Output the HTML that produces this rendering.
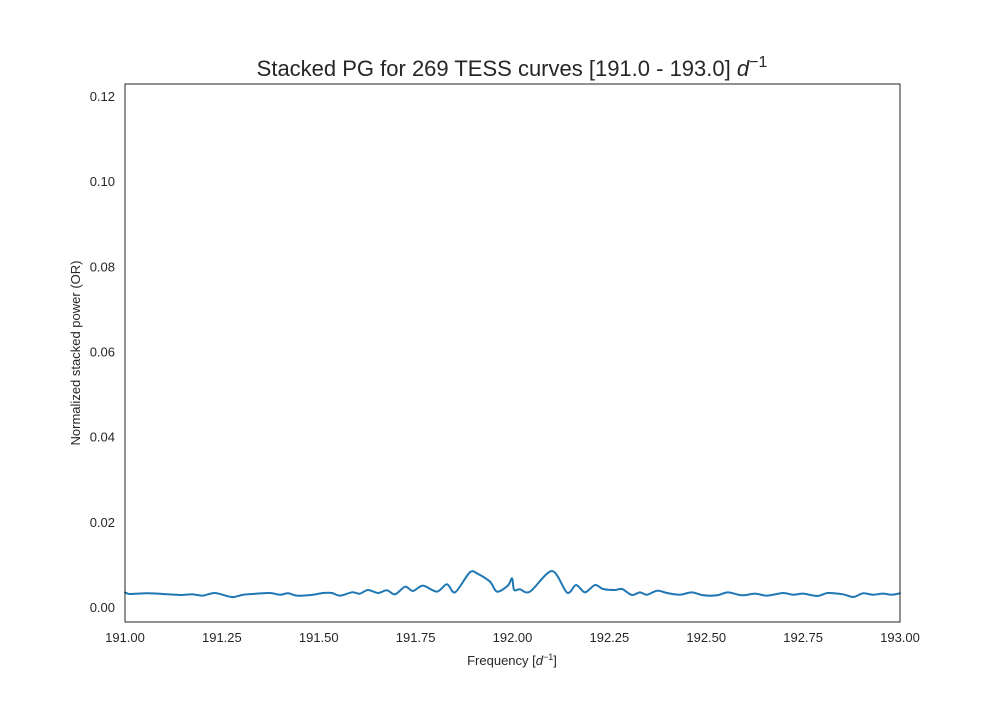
<!DOCTYPE html>
<html><head><meta charset="utf-8"><style>
body{margin:0;background:#fff;}
svg text{font-family:"Liberation Sans",sans-serif;fill:#262626;}
</style></head><body>
<svg id="chart" width="1000" height="700" xmlns="http://www.w3.org/2000/svg">
<rect width="1000" height="700" fill="#fff"/>
<text x="512" y="76" font-size="22" text-anchor="middle">Stacked PG for 269 TESS curves [191.0 - 193.0] <tspan font-style="italic">d</tspan><tspan dy="-9" font-size="16">−1</tspan></text>
<g id="yticks"></g>
<g id="xticks"></g>
<path id="line" fill="none" stroke="#1f77b4" stroke-width="2" stroke-linejoin="round" stroke-linecap="round"/>
<rect x="125" y="84" width="775" height="538" fill="none" stroke="#262626" stroke-width="1"/>
<text x="80" y="353" font-size="13" text-anchor="middle" transform="rotate(-90 80 353)">Normalized stacked power (OR)</text>
<text x="512" y="665" font-size="13" text-anchor="middle">Frequency [<tspan font-style="italic">d</tspan><tspan dy="-5" font-size="9">−1</tspan><tspan dy="5">]</tspan></text>
</svg>
<script>
const freqs=[191.0,191.013,191.056,191.098,191.142,191.175,191.201,191.232,191.276,191.305,191.341,191.374,191.4,191.421,191.444,191.485,191.511,191.534,191.555,191.586,191.606,191.627,191.653,191.676,191.697,191.723,191.743,191.769,191.805,191.831,191.852,191.89,191.911,191.942,191.96,191.988,191.999,192.004,192.019,192.045,192.102,192.141,192.164,192.187,192.213,192.234,192.265,192.283,192.308,192.329,192.347,192.373,192.399,192.432,192.463,192.492,192.528,192.556,192.592,192.626,192.657,192.698,192.724,192.75,192.786,192.814,192.853,192.879,192.905,192.93,192.956,192.979,193.0];
const powers=[0.00341,0.00306,0.00322,0.00306,0.00282,0.00298,0.00266,0.00329,0.00235,0.00289,0.00313,0.00329,0.00289,0.00322,0.00266,0.00289,0.00329,0.00329,0.00266,0.00345,0.00313,0.0040,0.00329,0.00392,0.00298,0.00477,0.00376,0.00501,0.0036,0.00533,0.00345,0.00815,0.00776,0.00595,0.0036,0.00501,0.00674,0.0040,0.00416,0.0036,0.00846,0.00336,0.00517,0.00345,0.00517,0.00423,0.0040,0.00423,0.00282,0.00345,0.00289,0.00383,0.00329,0.00289,0.00345,0.00275,0.00275,0.00345,0.00275,0.00313,0.00266,0.00329,0.00289,0.00313,0.00259,0.00329,0.00298,0.00235,0.00322,0.00289,0.00313,0.00289,0.00322];
const yTicks=[0.00,0.02,0.04,0.06,0.08,0.10,0.12];
const xTicks=[191.00,191.25,191.50,191.75,192.00,192.25,192.50,192.75,193.00];
const X0=191,X1=193,Y0=-0.00352,Y1=0.1228;
const L=125,R=900,T=84,B=622;
const sx=v=>L+(v-X0)/(X1-X0)*(R-L);
const sy=v=>B-(v-Y0)/(Y1-Y0)*(B-T);
const NS="http://www.w3.org/2000/svg";
const yg=document.getElementById('yticks'),xg=document.getElementById('xticks');
yTicks.forEach(v=>{const t=document.createElementNS(NS,'text');
t.setAttribute('x',115);t.setAttribute('y',sy(v)+5);t.setAttribute('font-size','13');t.setAttribute('text-anchor','end');


t.textContent=v.toFixed(2);yg.appendChild(t);});
xTicks.forEach(v=>{const t=document.createElementNS(NS,'text');
t.setAttribute('x',sx(v));t.setAttribute('y',642);t.setAttribute('font-size','13');t.setAttribute('text-anchor','middle');


t.textContent=v.toFixed(2);xg.appendChild(t);});
const pts=freqs.map((f,i)=>[sx(f),sy(powers[i])]);
let d='M'+pts[0][0]+','+pts[0][1];
for(let i=0;i<pts.length-1;i++){const p0=pts[Math.max(0,i-1)],p1=pts[i],p2=pts[i+1],p3=pts[Math.min(pts.length-1,i+2)];
const k=0.15;d+=` C${p1[0]+(p2[0]-p0[0])*k},${p1[1]+(p2[1]-p0[1])*k} ${p2[0]-(p3[0]-p1[0])*k},${p2[1]-(p3[1]-p1[1])*k} ${p2[0]},${p2[1]}`;}
document.getElementById('line').setAttribute('d',d);
</script>
</body></html>
